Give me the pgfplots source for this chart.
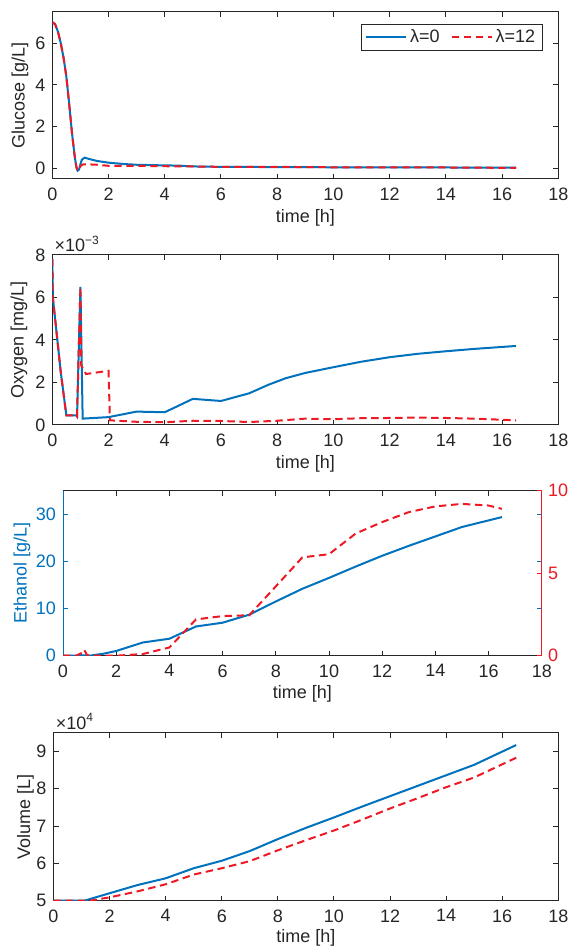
\documentclass[border=0pt]{standalone}
\usepackage{fontspec}
\setmainfont{Liberation Sans}
\usepackage{pgfplots}
\pgfplotsset{compat=1.18}
\definecolor{mblue}{rgb}{0,0.447,0.741}
\definecolor{mred}{rgb}{0.93,0.1,0.14}
\definecolor{axgray}{rgb}{0.15,0.15,0.15}
\pgfplotsset{
  every axis/.append style={
    scale only axis, anchor=south west,
    xmin=0, xmax=18, xtick={0,2,...,18},
    axis line style={axgray, line width=0.5pt},
    tick style={axgray, line width=0.5pt},
    major tick length=2.5pt,
    tick align=inside,
    tick label style={text=axgray},
    label style={text=axgray},
    /pgf/number format/assume math mode=true,
    xticklabel style={yshift=-1.2pt},
    yticklabel style={xshift=-0.3pt},
    xlabel style={at={(axis description cs:0.5,0)}, anchor=center, yshift=-19.25pt},
    xlabel={time [h]},
  },
  blueline/.style={mblue, line width=1pt},
  redline/.style={mred, line width=1pt, dash pattern=on 3.7pt off 2.3pt},
}
\begin{document}
\fontsize{9}{10.8}\selectfont
\begin{tikzpicture}
\path[use as bounding box] (0pt,0pt) rectangle (287pt,473.5pt);
% ---------------- Glucose
\begin{axis}[at={(26.15pt,384pt)}, width=253pt, height=83.65pt,
  ymin=-0.5, ymax=7.5, ytick={0,2,4,6},
  ylabel={Glucose [g/L]},
  ylabel style={at={(axis description cs:-0.064,0.5)}, anchor=center},
  legend style={at={(axis description cs:0.969,0.9265)}, anchor=north east,
    legend columns=2, draw=axgray, line width=0.5pt, text=axgray,
    inner xsep=2pt, inner ysep=1pt, nodes={inner sep=1.5pt},
    /tikz/column 2/.style={column sep=4pt}},
  legend cell align=left,
  legend image code/.code={\draw[#1] (0pt,0pt) -- (20pt,0pt);},
]
\addplot[blueline] coordinates {(0,7.0)(0.1,6.9)(0.2,6.55)(0.3,6.0)(0.4,5.3)(0.5,4.4)(0.6,3.1)(0.7,1.7)(0.8,0.55)(0.86,0.05)(0.9,-0.1)(0.95,-0.05)(1.0,0.2)(1.05,0.42)(1.15,0.52)(1.3,0.46)(1.6,0.36)(2,0.28)(2.5,0.22)(3,0.18)(4,0.15)(4.5,0.14)(5,0.1)(6,0.08)(8,0.07)(10,0.06)(12,0.05)(14,0.05)(16.5,0.04)};
\addlegendentry{λ=0}
\addplot[redline] coordinates {(0,7.0)(0.1,6.9)(0.2,6.55)(0.3,6.0)(0.4,5.3)(0.5,4.4)(0.6,3.1)(0.7,1.7)(0.8,0.55)(0.86,0.05)(0.9,-0.1)(0.95,-0.05)(1.0,0.12)(1.1,0.2)(1.5,0.19)(2,0.13)(3,0.13)(4,0.11)(5,0.1)(6,0.08)(8,0.08)(10,0.06)(12,0.05)(14,0.05)(16.5,0.03)};
\addlegendentry{λ=12}
\end{axis}
% ---------------- Oxygen
\begin{axis}[at={(26.15pt,261pt)}, width=253pt, height=85pt,
  ymin=0, ymax=0.008, ytick={0,0.002,0.004,0.006,0.008}, yticklabels={0,2,4,6,8},
  scaled y ticks=false,
  ylabel={Oxygen [mg/L]},
  ylabel style={at={(axis description cs:-0.066,0.5)}, anchor=center},
  extra description/.code={\node[anchor=south west, inner sep=0pt, text=axgray, xshift=1pt, yshift=1.3pt] at (axis description cs:0,1) {×10\textsuperscript{−3}};},
]
\addplot[blueline] coordinates {(0,0.0078)(0.02,0.0060)(0.3,0.0025)(0.5,0.00045)(0.85,0.00045)(0.88,0.0004)(1.0,0.0065)(1.08,0.0003)(2,0.00037)(3,0.00063)(4,0.0006)(5,0.00123)(6,0.00113)(7,0.00149)(7.7,0.0019)(8.3,0.0022)(9,0.00245)(10,0.00272)(11,0.00298)(12,0.00319)(13,0.00335)(14,0.00347)(15,0.00358)(16.5,0.00372)};
\addplot[redline] coordinates {(0,0.0078)(0.02,0.0060)(0.3,0.0025)(0.5,0.00045)(0.85,0.00045)(0.88,0.0004)(1.0,0.0065)(1.03,0.0028)(1.2,0.0024)(2.0,0.00255)(2.05,0.00022)(3,0.00015)(4,0.00013)(5,0.0002)(6,0.00019)(7,0.00014)(8,0.0002)(9,0.0003)(10,0.00027)(11,0.00032)(12,0.00033)(13,0.00035)(14,0.00033)(15,0.0003)(16.5,0.00022)};
\end{axis}
% ---------------- Ethanol (left, blue)
\begin{axis}[at={(31.5pt,145.65pt)}, width=239.4pt, height=82.5pt,
  ymin=0, ymax=35, ytick={0,10,20,30},
  separate axis lines,
  x axis line style={axgray},
  y axis line style={mblue},
  ytick style={mblue},
  yticklabel style={text=mblue},
  ylabel={Ethanol [g/L]},
  ylabel style={at={(axis description cs:-0.0856,0.5)}, anchor=center, text=mblue},
]
\addplot[blueline] coordinates {(0,0)(0.5,0)(0.7,0.1)(0.9,0.05)(1,0)(1.5,0.4)(2,1.0)(3,2.8)(4,3.6)(5,6.2)(6,7.0)(7,8.7)(8,11.5)(9,14.2)(10,16.5)(11,18.9)(12,21.2)(13,23.3)(14,25.3)(15,27.3)(16.5,29.4)};
\end{axis}
% ---------------- Ethanol (right, red)
\begin{axis}[at={(31.5pt,145.65pt)}, width=239.4pt, height=82.5pt,
  ymin=0, ymax=10, ytick={0,5,10},
  hide x axis, xlabel={},
  axis y line*=right,
  y axis line style={draw=mred, -},
  ytick style={mred},
  yticklabel style={text=mred, xshift=0.3pt},
  tick align=inside,
]
\addplot[redline] coordinates {(0,0)(0.5,0)(0.75,0.2)(0.8,0.35)(0.9,0.05)(1,0)(2,0)(3,0.1)(4,0.5)(5,2.2)(6,2.4)(7,2.45)(8,4.2)(9,5.96)(10,6.15)(11,7.4)(12,8.1)(13,8.7)(14,9.05)(15,9.2)(16,9.1)(16.5,8.9)};
\end{axis}
% ---------------- Volume
\begin{axis}[at={(26.75pt,23.15pt)}, width=252.4pt, height=84pt,
  ymin=50000, ymax=95000, ytick={50000,60000,70000,80000,90000}, yticklabels={5,6,7,8,9},
  scaled y ticks=false,
  ylabel={Volume [L]},
  ylabel style={at={(axis description cs:-0.0553,0.5)}, anchor=center},
  xlabel style={yshift=0.7pt},
  extra description/.code={\node[anchor=south west, inner sep=0pt, text=axgray, xshift=1pt, yshift=1.3pt] at (axis description cs:0,1) {×10\textsuperscript{4}};},
]
\addplot[blueline] coordinates {(0,50000)(1.1,50000)(2,52000)(3,54200)(4,56000)(5,58700)(6,60700)(7,63300)(8,66500)(9,69500)(10,72300)(11,75200)(12,78000)(13,80800)(14,83600)(15,86400)(16.5,91700)};
\addplot[redline] coordinates {(0,50000)(1.3,50000)(2,50900)(3,52500)(4,54400)(5,57000)(6,58700)(7,60600)(8,63500)(9,66200)(10,68800)(11,71700)(12,74700)(13,77500)(14,80400)(15,83000)(16.5,88300)};
\end{axis}
\end{tikzpicture}
\end{document}
